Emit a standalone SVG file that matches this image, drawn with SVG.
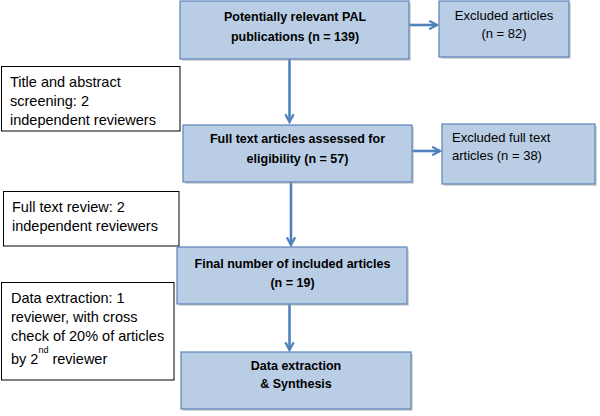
<svg xmlns="http://www.w3.org/2000/svg" width="600" height="416" viewBox="0 0 600 416">
<defs>
<style>
.box{fill:#b9cde5;stroke:#5a82b8;stroke-width:1.2}
.shadow{fill:#a6a6a6;opacity:0.45}
.note{fill:#ffffff;stroke:#000000;stroke-width:1}
.b{font-family:"Liberation Sans",Arial,sans-serif;font-weight:bold;font-size:12.5px;fill:#000}
.r{font-family:"Liberation Sans",Arial,sans-serif;font-size:13px;fill:#000}
.n{font-family:"Liberation Sans",Arial,sans-serif;font-size:14.5px;fill:#000}
.c{stroke:#4f81bd;stroke-width:2.6;fill:none}
</style>
<marker id="ah" viewBox="0 0 10 10" refX="8.5" refY="5" markerWidth="4" markerHeight="4" orient="auto" markerUnits="strokeWidth">
<path d="M1,1 L8.5,5 L1,9" fill="none" stroke="#4f81bd" stroke-width="2.2" stroke-linejoin="miter"/>
</marker>
</defs>
<rect width="600" height="416" fill="#ffffff"/>

<g id="connectors">
<line class="c" x1="409" y1="25" x2="437" y2="25" marker-end="url(#ah)"/>
<line class="c" x1="289.5" y1="59" x2="289.5" y2="122" marker-end="url(#ah)"/>
<line class="c" x1="412" y1="151" x2="440" y2="151" marker-end="url(#ah)"/>
<line class="c" x1="291" y1="182" x2="291" y2="245" marker-end="url(#ah)"/>
<line class="c" x1="289.5" y1="304" x2="289.5" y2="350" marker-end="url(#ah)"/>
</g>

<g id="n1">
<rect class="shadow" x="182" y="3" width="229" height="58"/>
<rect class="box" x="180" y="1" width="229" height="58"/>
<text class="b" x="295" y="21" text-anchor="middle">Potentially relevant PAL</text>
<text class="b" x="295" y="41" text-anchor="middle">publications (n = 139)</text>
</g>

<g id="n2">
<rect class="shadow" x="441" y="3" width="130" height="56"/>
<rect class="box" x="439" y="1" width="130" height="56"/>
<text class="r" x="504" y="20" text-anchor="middle">Excluded articles</text>
<text class="r" x="504" y="38" text-anchor="middle">(n = 82)</text>
</g>

<g id="n3">
<rect class="note" x="1.5" y="66.5" width="178.5" height="64.5"/>
<text class="n" x="10" y="87">Title and abstract</text>
<text class="n" x="10" y="106">screening: 2</text>
<text class="n" x="10" y="125">independent reviewers</text>
</g>

<g id="n4">
<rect class="shadow" x="185" y="127" width="229" height="57"/>
<rect class="box" x="183" y="125" width="229" height="57"/>
<text class="b" x="297.5" y="143" text-anchor="middle">Full text articles assessed for</text>
<text class="b" x="297.5" y="163" text-anchor="middle">eligibility (n = 57)</text>
</g>

<g id="n5">
<rect class="shadow" x="444" y="126" width="153" height="60"/>
<rect class="box" x="442" y="124" width="153" height="60"/>
<text class="r" x="452" y="142">Excluded full text</text>
<text class="r" x="452" y="160">articles (n = 38)</text>
</g>

<g id="n6">
<rect class="note" x="3.5" y="191.5" width="175.5" height="54.5"/>
<text class="n" x="12" y="212">Full text review: 2</text>
<text class="n" x="12" y="231">independent reviewers</text>
</g>

<g id="n7">
<rect class="shadow" x="179" y="249" width="230" height="57"/>
<rect class="box" x="177" y="247" width="230" height="57"/>
<text class="b" x="292.5" y="268" text-anchor="middle">Final number of included articles</text>
<text class="b" x="292.5" y="287" text-anchor="middle">(n = 19)</text>
</g>

<g id="n8">
<rect class="note" x="1.5" y="282.5" width="172.5" height="97.5"/>
<text class="n" x="11" y="303">Data extraction: 1</text>
<text class="n" x="11" y="322">reviewer, with cross</text>
<text class="n" x="11" y="341">check of 20% of articles</text>
<text class="n" x="11" y="364">by 2<tspan font-size="9" dy="-11">nd</tspan><tspan dy="11"> reviewer</tspan></text>
</g>

<g id="n9">
<rect class="shadow" x="183" y="354" width="230" height="57"/>
<rect class="box" x="181" y="352" width="230" height="57"/>
<text class="b" x="296" y="370" text-anchor="middle">Data extraction</text>
<text class="b" x="296" y="388" text-anchor="middle">&amp; Synthesis</text>
</g>
</svg>
